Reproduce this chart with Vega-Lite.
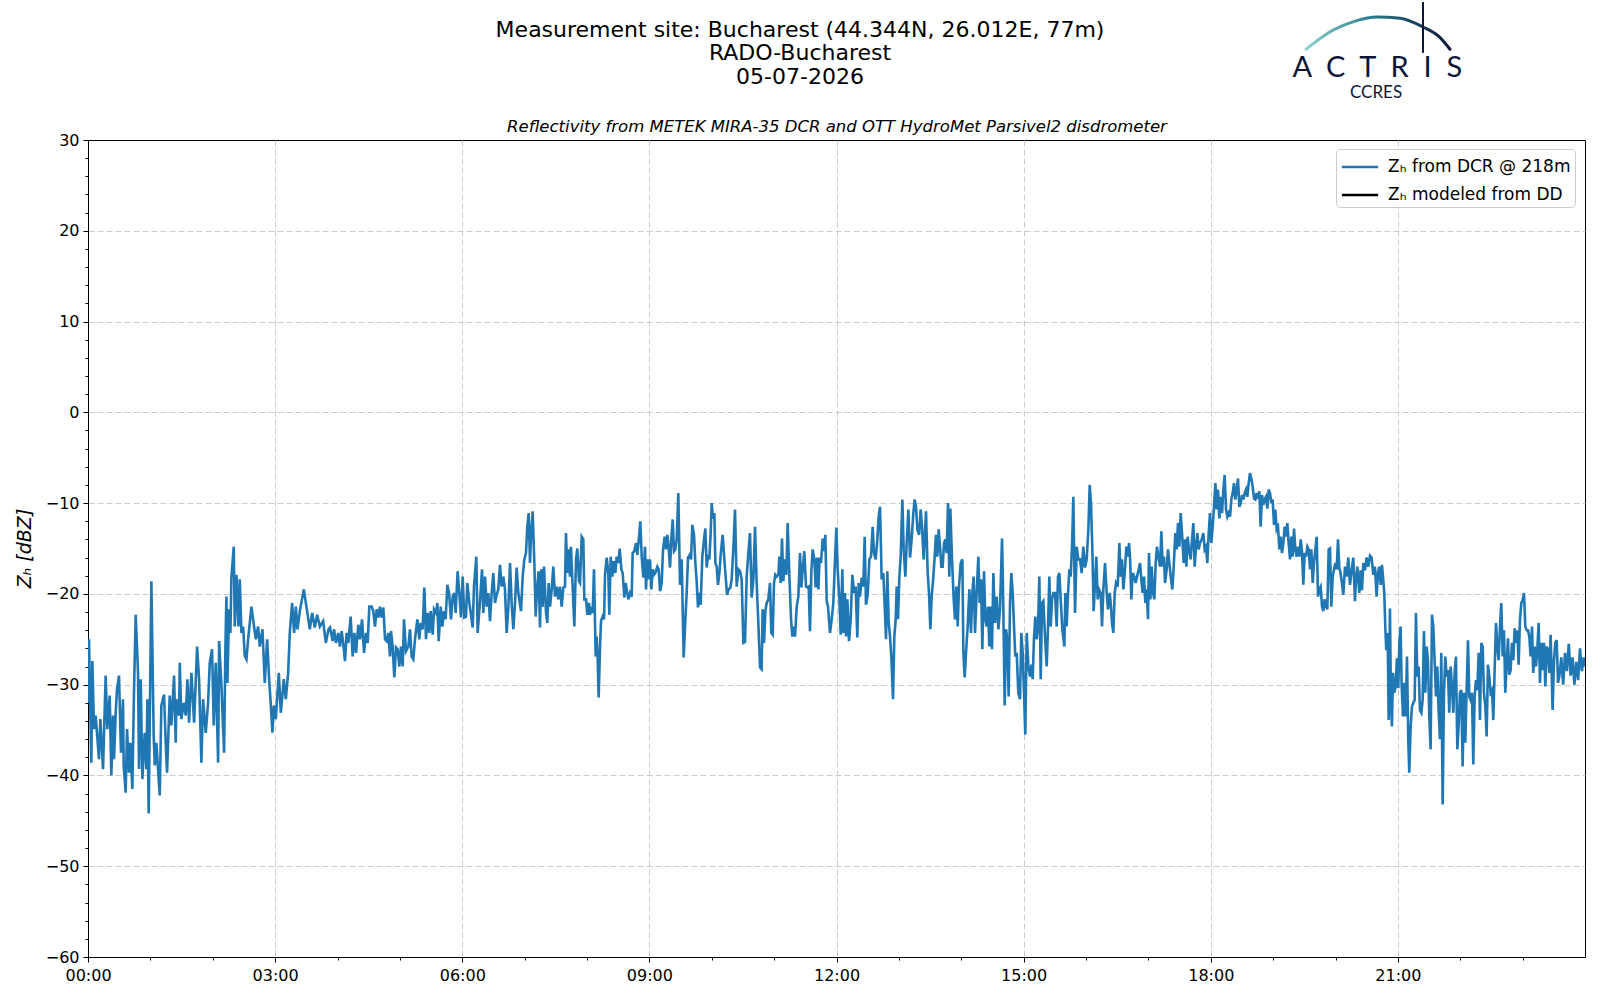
{
  "$schema": "https://vega.github.io/schema/vega-lite/v6.json",
  "width": 1497,
  "height": 817,
  "autosize": {"type": "none"},
  "padding": {"left": 88, "top": 140, "right": 15, "bottom": 43},
  "background": "white",
  "config": {
    "font": "DejaVu Sans",
    "view": {"stroke": "black", "strokeWidth": 1},
    "axis": {
      "labelFont": "DejaVu Sans",
      "labelFontSize": 16,
      "labelColor": "black",
      "tickColor": "black",
      "domainColor": "black",
      "titleFont": "DejaVu Sans",
      "titleColor": "black",
      "titleFontWeight": "normal"
    }
  },
  "title": {
    "text": ["Measurement site: Bucharest (44.344N, 26.012E, 77m)", "RADO-Bucharest", "05-07-2026"],
    "font": "DejaVu Sans",
    "fontSize": 22,
    "fontWeight": "normal",
    "color": "black",
    "anchor": "middle",
    "frame": "group",
    "dx": -36.5,
    "offset": -87.5,
    "lineHeight": 23.5,
    "baseline": "top"
  },
  "resolve": {"axis": {"x": "independent", "y": "independent"}},
  "datasets": {
    "zh": [
      {"t":0,"z":-32.0},{"t":0.016,"z":-25.0},{"t":0.053,"z":-38.6},{"t":0.070,"z":-27.4},{"t":0.096,"z":-34.9},{"t":0.123,"z":-33.4},{"t":0.144,"z":-35.3},{"t":0.176,"z":-38.2},{"t":0.198,"z":-33.8},{"t":0.241,"z":-39.3},{"t":0.283,"z":-29.0},{"t":0.310,"z":-34.9},{"t":0.348,"z":-31.2},{"t":0.374,"z":-40.0},{"t":0.401,"z":-33.4},{"t":0.417,"z":-38.2},{"t":0.444,"z":-33.1},{"t":0.465,"z":-30.5},{"t":0.497,"z":-29.0},{"t":0.529,"z":-37.5},{"t":0.561,"z":-31.6},{"t":0.572,"z":-38.9},{"t":0.604,"z":-41.9},{"t":0.626,"z":-34.9},{"t":0.658,"z":-39.7},{"t":0.679,"z":-36.4},{"t":0.711,"z":-41.5},{"t":0.738,"z":-30.5},{"t":0.765,"z":-22.3},{"t":0.802,"z":-28.7},{"t":0.818,"z":-39.3},{"t":0.845,"z":-29.4},{"t":0.872,"z":-40.4},{"t":0.909,"z":-35.3},{"t":0.936,"z":-39.3},{"t":0.952,"z":-31.6},{"t":0.973,"z":-44.2},{"t":1.016,"z":-18.6},{"t":1.053,"z":-35.6},{"t":1.070,"z":-38.9},{"t":1.096,"z":-36.4},{"t":1.150,"z":-42.2},{"t":1.176,"z":-32.3},{"t":1.219,"z":-31.1},{"t":1.246,"z":-36.4},{"t":1.267,"z":-39.7},{"t":1.310,"z":-31.2},{"t":1.337,"z":-34.5},{"t":1.380,"z":-29.0},{"t":1.406,"z":-36.4},{"t":1.417,"z":-31.6},{"t":1.460,"z":-33.4},{"t":1.471,"z":-27.6},{"t":1.497,"z":-33.8},{"t":1.535,"z":-32.0},{"t":1.567,"z":-33.4},{"t":1.594,"z":-29.4},{"t":1.620,"z":-34.2},{"t":1.658,"z":-28.7},{"t":1.701,"z":-34.2},{"t":1.749,"z":-25.8},{"t":1.781,"z":-29.4},{"t":1.818,"z":-38.6},{"t":1.845,"z":-31.6},{"t":1.888,"z":-35.3},{"t":1.925,"z":-32.0},{"t":1.952,"z":-27.6},{"t":1.989,"z":-26.1},{"t":2.016,"z":-34.5},{"t":2.048,"z":-27.6},{"t":2.086,"z":-38.6},{"t":2.102,"z":-25.2},{"t":2.139,"z":-30.1},{"t":2.182,"z":-37.5},{"t":2.203,"z":-25.8},{"t":2.219,"z":-20.3},{"t":2.235,"z":-29.8},{"t":2.262,"z":-21.7},{"t":2.283,"z":-24.3},{"t":2.299,"z":-18.2},{"t":2.337,"z":-14.8},{"t":2.353,"z":-23.6},{"t":2.380,"z":-17.9},{"t":2.412,"z":-23.6},{"t":2.433,"z":-18.4},{"t":2.460,"z":-24.3},{"t":2.487,"z":-23.6},{"t":2.513,"z":-26.8},{"t":2.540,"z":-27.2},{"t":2.567,"z":-25.0},{"t":2.620,"z":-21.4},{"t":2.647,"z":-22.8},{"t":2.690,"z":-25.0},{"t":2.727,"z":-23.6},{"t":2.754,"z":-25.8},{"t":2.797,"z":-23.9},{"t":2.834,"z":-29.8},{"t":2.872,"z":-25.0},{"t":2.904,"z":-29.4},{"t":2.925,"z":-31.6},{"t":2.957,"z":-35.3},{"t":2.979,"z":-32.3},{"t":3.011,"z":-33.8},{"t":3.059,"z":-28.7},{"t":3.091,"z":-33.1},{"t":3.139,"z":-29.4},{"t":3.171,"z":-31.6},{"t":3.209,"z":-28.7},{"t":3.235,"z":-24.3},{"t":3.273,"z":-21.0},{"t":3.305,"z":-24.3},{"t":3.332,"z":-21.4},{"t":3.358,"z":-23.9},{"t":3.396,"z":-21.9},{"t":3.460,"z":-19.5},{"t":3.556,"z":-23.9},{"t":3.594,"z":-22.1},{"t":3.636,"z":-23.7},{"t":3.674,"z":-22.3},{"t":3.717,"z":-23.6},{"t":3.770,"z":-23.0},{"t":3.813,"z":-25.4},{"t":3.856,"z":-23.9},
      {"t":3.880,"z":-23.7},{"t":3.922,"z":-25.2},{"t":3.944,"z":-23.9},{"t":3.976,"z":-25.4},{"t":4.013,"z":-24.3},{"t":4.040,"z":-25.8},{"t":4.067,"z":-24.1},{"t":4.094,"z":-25.6},{"t":4.120,"z":-27.4},{"t":4.147,"z":-24.3},{"t":4.174,"z":-25.4},{"t":4.211,"z":-22.5},{"t":4.243,"z":-26.9},{"t":4.270,"z":-24.3},{"t":4.297,"z":-26.5},{"t":4.334,"z":-23.4},{"t":4.361,"z":-25.0},{"t":4.393,"z":-22.8},{"t":4.425,"z":-26.5},{"t":4.457,"z":-24.3},{"t":4.484,"z":-25.4},{"t":4.510,"z":-21.4},{"t":4.548,"z":-21.4},{"t":4.574,"z":-21.9},{"t":4.601,"z":-23.6},{"t":4.628,"z":-21.7},{"t":4.655,"z":-22.6},{"t":4.681,"z":-21.4},{"t":4.708,"z":-22.6},{"t":4.735,"z":-21.5},{"t":4.762,"z":-25.0},{"t":4.788,"z":-25.2},{"t":4.815,"z":-24.3},{"t":4.842,"z":-26.9},{"t":4.858,"z":-24.1},{"t":4.884,"z":-25.8},{"t":4.911,"z":-29.2},{"t":4.938,"z":-25.9},{"t":4.965,"z":-26.1},{"t":4.991,"z":-28.0},{"t":5.018,"z":-25.8},{"t":5.045,"z":-28.0},{"t":5.066,"z":-22.8},{"t":5.098,"z":-26.3},{"t":5.136,"z":-25.8},{"t":5.162,"z":-23.9},{"t":5.189,"z":-26.9},{"t":5.216,"z":-27.2},{"t":5.242,"z":-25.0},{"t":5.280,"z":-22.8},{"t":5.312,"z":-25.0},{"t":5.333,"z":-23.2},{"t":5.365,"z":-23.9},{"t":5.392,"z":-19.3},{"t":5.419,"z":-25.0},{"t":5.446,"z":-22.1},{"t":5.472,"z":-24.3},{"t":5.494,"z":-21.9},{"t":5.526,"z":-24.5},{"t":5.547,"z":-21.7},{"t":5.579,"z":-22.1},{"t":5.601,"z":-21.0},{"t":5.622,"z":-25.2},{"t":5.654,"z":-21.4},{"t":5.681,"z":-23.6},{"t":5.707,"z":-21.9},{"t":5.734,"z":-22.8},{"t":5.761,"z":-19.0},{"t":5.788,"z":-19.9},{"t":5.820,"z":-22.8},{"t":5.846,"z":-20.3},{"t":5.873,"z":-19.9},{"t":5.894,"z":-22.1},{"t":5.926,"z":-17.5},{"t":5.953,"z":-19.9},{"t":5.980,"z":-22.6},{"t":6.007,"z":-18.1},{"t":6.033,"z":-22.6},{"t":6.060,"z":-22.5},{"t":6.081,"z":-18.8},{"t":6.114,"z":-21.0},{"t":6.140,"z":-22.3},{"t":6.167,"z":-23.7},{"t":6.188,"z":-19.2},{"t":6.226,"z":-15.9},{"t":6.247,"z":-24.3},{"t":6.285,"z":-20.8},{"t":6.317,"z":-17.3},{"t":6.338,"z":-22.1},{"t":6.365,"z":-18.1},{"t":6.392,"z":-21.4},{"t":6.418,"z":-19.9},{"t":6.445,"z":-23.0},{"t":6.472,"z":-19.9},{"t":6.498,"z":-17.7},{"t":6.525,"z":-21.0},{"t":6.552,"z":-20.1},{"t":6.578,"z":-19.5},{"t":6.605,"z":-16.8},{"t":6.632,"z":-19.2},{"t":6.659,"z":-18.1},{"t":6.685,"z":-19.5},{"t":6.712,"z":-24.3},{"t":6.739,"z":-21.5},{"t":6.766,"z":-16.6},{"t":6.792,"z":-21.0},{"t":6.819,"z":-23.9},{"t":6.846,"z":-21.0},{"t":6.872,"z":-17.1},{"t":6.899,"z":-19.9},{"t":6.942,"z":-21.9},{"t":6.969,"z":-18.1},{"t":6.995,"z":-16.2},{"t":7.022,"z":-15.5},{"t":7.043,"z":-12.6},{"t":7.065,"z":-11.1},{"t":7.086,"z":-16.6},{"t":7.102,"z":-13.7},{"t":7.129,"z":-10.9},{"t":7.156,"z":-16.6},{"t":7.177,"z":-22.5},{"t":7.198,"z":-19.5},{"t":7.225,"z":-17.5},{"t":7.246,"z":-23.7},{"t":7.268,"z":-17.3},{"t":7.289,"z":-21.4},{"t":7.311,"z":-17.0},{"t":7.343,"z":-22.1},{"t":7.364,"z":-23.2},{"t":7.385,"z":-18.8},{"t":7.407,"z":-21.4},{"t":7.434,"z":-19.5},{"t":7.460,"z":-17.0},{"t":7.487,"z":-20.3},{"t":7.514,"z":-19.2},{"t":7.540,"z":-20.6},{"t":7.567,"z":-19.2},{"t":7.594,"z":-21.4},{"t":7.621,"z":-19.3},{"t":7.647,"z":-19.2},{"t":7.663,"z":-13.3},{"t":7.685,"z":-17.7},{"t":7.706,"z":-15.1},{"t":7.727,"z":-18.1},{"t":7.743,"z":-14.8},{"t":7.770,"z":-19.2},{"t":7.797,"z":-23.6},{"t":7.824,"z":-16.2},{"t":7.845,"z":-15.0},{"t":7.872,"z":-18.6},
      {"t":7.888,"z":-18.8},{"t":7.915,"z":-13.7},{"t":7.941,"z":-14.0},{"t":7.957,"z":-20.6},{"t":7.984,"z":-20.6},{"t":8.006,"z":-22.3},{"t":8.032,"z":-21.0},{"t":8.048,"z":-22.3},{"t":8.075,"z":-21.4},{"t":8.091,"z":-22.1},{"t":8.112,"z":-17.3},{"t":8.139,"z":-26.9},{"t":8.155,"z":-24.7},{"t":8.171,"z":-27.2},{"t":8.187,"z":-31.4},{"t":8.209,"z":-25.8},{"t":8.225,"z":-23.0},{"t":8.251,"z":-22.5},{"t":8.273,"z":-22.8},{"t":8.289,"z":-17.9},{"t":8.316,"z":-16.0},{"t":8.342,"z":-17.7},{"t":8.358,"z":-22.3},{"t":8.380,"z":-15.9},{"t":8.406,"z":-18.1},{"t":8.428,"z":-16.4},{"t":8.454,"z":-17.7},{"t":8.476,"z":-15.9},{"t":8.503,"z":-16.6},{"t":8.524,"z":-15.0},{"t":8.551,"z":-17.3},{"t":8.572,"z":-17.7},{"t":8.599,"z":-20.4},{"t":8.620,"z":-18.8},{"t":8.641,"z":-19.7},{"t":8.663,"z":-20.6},{"t":8.690,"z":-19.9},{"t":8.716,"z":-20.3},{"t":8.732,"z":-15.5},{"t":8.759,"z":-15.3},{"t":8.786,"z":-14.4},{"t":8.807,"z":-15.7},{"t":8.834,"z":-13.7},{"t":8.855,"z":-12.0},{"t":8.877,"z":-15.9},{"t":8.903,"z":-18.2},{"t":8.930,"z":-14.8},{"t":8.946,"z":-19.5},{"t":8.967,"z":-16.2},{"t":8.994,"z":-18.4},{"t":9.010,"z":-16.2},{"t":9.032,"z":-19.5},{"t":9.053,"z":-17.3},{"t":9.074,"z":-17.9},{"t":9.096,"z":-17.7},{"t":9.128,"z":-17.0},{"t":9.149,"z":-17.3},{"t":9.171,"z":-19.7},{"t":9.197,"z":-18.8},{"t":9.219,"z":-15.1},{"t":9.245,"z":-13.7},{"t":9.267,"z":-15.1},{"t":9.288,"z":-13.5},{"t":9.309,"z":-14.8},{"t":9.331,"z":-17.1},{"t":9.352,"z":-14.0},{"t":9.374,"z":-11.8},{"t":9.395,"z":-15.3},{"t":9.416,"z":-15.1},{"t":9.438,"z":-14.0},{"t":9.464,"z":-8.9},{"t":9.491,"z":-19.0},{"t":9.518,"z":-16.2},{"t":9.550,"z":-27.0},{"t":9.577,"z":-22.8},{"t":9.598,"z":-19.9},{"t":9.619,"z":-16.0},{"t":9.646,"z":-15.7},{"t":9.668,"z":-16.2},{"t":9.689,"z":-12.4},{"t":9.716,"z":-13.5},{"t":9.737,"z":-16.6},{"t":9.758,"z":-18.6},{"t":9.780,"z":-21.5},{"t":9.801,"z":-19.9},{"t":9.822,"z":-21.2},{"t":9.849,"z":-15.9},{"t":9.876,"z":-14.0},{"t":9.897,"z":-12.8},{"t":9.919,"z":-17.1},{"t":9.940,"z":-15.7},{"t":9.961,"z":-16.2},{"t":9.983,"z":-13.3},{"t":9.999,"z":-10.0},{"t":10.020,"z":-11.7},{"t":10.042,"z":-11.1},{"t":10.058,"z":-16.6},{"t":10.079,"z":-17.0},{"t":10.100,"z":-19.0},{"t":10.122,"z":-17.7},{"t":10.143,"z":-15.7},{"t":10.175,"z":-13.5},{"t":10.202,"z":-16.2},{"t":10.223,"z":-18.1},{"t":10.245,"z":-20.1},{"t":10.271,"z":-19.5},{"t":10.298,"z":-19.3},{"t":10.319,"z":-18.4},{"t":10.346,"z":-15.1},{"t":10.373,"z":-10.7},{"t":10.400,"z":-19.2},{"t":10.426,"z":-17.3},{"t":10.453,"z":-17.5},{"t":10.480,"z":-18.4},{"t":10.507,"z":-25.4},{"t":10.533,"z":-25.3},{"t":10.560,"z":-18.1},{"t":10.587,"z":-15.5},{"t":10.613,"z":-13.3},{"t":10.640,"z":-20.4},{"t":10.667,"z":-18.4},{"t":10.694,"z":-12.6},{"t":10.720,"z":-18.8},{"t":10.747,"z":-23.2},{"t":10.774,"z":-28.1},{"t":10.800,"z":-28.3},{"t":10.816,"z":-21.7},{"t":10.838,"z":-25.4},{"t":10.859,"z":-21.9},{"t":10.881,"z":-21.0},{"t":10.907,"z":-20.6},{"t":10.934,"z":-18.8},{"t":10.955,"z":-24.3},{"t":10.977,"z":-24.5},{"t":10.998,"z":-18.8},{"t":11.019,"z":-17.9},{"t":11.041,"z":-18.1},{"t":11.068,"z":-17.9},{"t":11.084,"z":-15.9},{"t":11.105,"z":-18.8},{"t":11.126,"z":-13.9},{"t":11.148,"z":-18.6},{"t":11.169,"z":-16.2},{"t":11.196,"z":-17.9},{"t":11.217,"z":-12.2},{"t":11.244,"z":-17.9},{"t":11.271,"z":-22.8},{"t":11.292,"z":-24.7},{"t":11.313,"z":-23.6},{"t":11.335,"z":-24.7},{"t":11.362,"z":-21.4},{"t":11.388,"z":-20.3},{"t":11.415,"z":-15.5},{"t":11.436,"z":-19.3},{"t":11.458,"z":-17.3},{"t":11.484,"z":-15.3},{"t":11.511,"z":-19.2},{"t":11.532,"z":-19.3},{"t":11.554,"z":-19.2},{"t":11.575,"z":-24.1},{"t":11.597,"z":-17.5},{"t":11.618,"z":-15.1},{"t":11.645,"z":-16.2},{"t":11.666,"z":-19.3},{"t":11.688,"z":-16.0},{"t":11.709,"z":-19.5},{"t":11.730,"z":-16.0},{"t":11.752,"z":-16.6},{"t":11.778,"z":-13.9},{"t":11.800,"z":-15.3},{"t":11.821,"z":-13.5},{"t":11.843,"z":-20.8},{"t":11.864,"z":-21.4},
      {"t":11.896,"z":-24.3},{"t":11.923,"z":-22.8},{"t":11.949,"z":-21.0},{"t":11.976,"z":-16.2},{"t":11.998,"z":-12.7},{"t":12.019,"z":-17.3},{"t":12.046,"z":-20.6},{"t":12.067,"z":-24.5},{"t":12.094,"z":-17.3},{"t":12.110,"z":-24.3},{"t":12.136,"z":-19.9},{"t":12.153,"z":-24.7},{"t":12.174,"z":-20.6},{"t":12.201,"z":-25.2},{"t":12.227,"z":-22.8},{"t":12.254,"z":-17.9},{"t":12.281,"z":-19.9},{"t":12.307,"z":-19.2},{"t":12.334,"z":-24.8},{"t":12.356,"z":-18.8},{"t":12.377,"z":-20.3},{"t":12.404,"z":-18.2},{"t":12.430,"z":-19.2},{"t":12.452,"z":-13.7},{"t":12.473,"z":-21.2},{"t":12.500,"z":-20.1},{"t":12.527,"z":-16.2},{"t":12.553,"z":-15.9},{"t":12.580,"z":-12.6},{"t":12.601,"z":-15.5},{"t":12.628,"z":-16.2},{"t":12.655,"z":-14.0},{"t":12.676,"z":-11.5},{"t":12.698,"z":-10.4},{"t":12.724,"z":-18.4},{"t":12.751,"z":-17.7},{"t":12.772,"z":-21.2},{"t":12.794,"z":-25.0},{"t":12.815,"z":-17.5},{"t":12.837,"z":-23.2},{"t":12.858,"z":-24.7},{"t":12.879,"z":-26.9},{"t":12.906,"z":-31.6},{"t":12.927,"z":-24.7},{"t":12.949,"z":-22.8},{"t":12.965,"z":-19.2},{"t":12.986,"z":-22.8},{"t":13.008,"z":-18.1},{"t":13.029,"z":-15.9},{"t":13.056,"z":-9.6},{"t":13.077,"z":-15.1},{"t":13.104,"z":-18.1},{"t":13.125,"z":-14.4},{"t":13.152,"z":-10.7},{"t":13.179,"z":-16.0},{"t":13.205,"z":-14.0},{"t":13.232,"z":-11.1},{"t":13.253,"z":-9.6},{"t":13.275,"z":-10.4},{"t":13.296,"z":-12.9},{"t":13.323,"z":-13.5},{"t":13.350,"z":-10.7},{"t":13.371,"z":-12.6},{"t":13.398,"z":-16.2},{"t":13.435,"z":-10.9},{"t":13.462,"z":-17.7},{"t":13.483,"z":-19.9},{"t":13.505,"z":-23.9},{"t":13.526,"z":-20.3},{"t":13.553,"z":-18.1},{"t":13.574,"z":-15.9},{"t":13.595,"z":-13.5},{"t":13.617,"z":-15.9},{"t":13.638,"z":-12.9},{"t":13.660,"z":-14.8},{"t":13.681,"z":-17.0},{"t":13.702,"z":-17.0},{"t":13.724,"z":-14.4},{"t":13.745,"z":-14.0},{"t":13.766,"z":-15.5},{"t":13.788,"z":-10.0},{"t":13.809,"z":-18.1},{"t":13.825,"z":-10.6},{"t":13.852,"z":-16.2},{"t":13.879,"z":-20.6},{"t":13.900,"z":-22.8},{"t":13.921,"z":-19.2},{"t":13.943,"z":-23.6},{"t":13.964,"z":-19.2},{"t":13.991,"z":-16.6},{"t":14.018,"z":-16.2},{"t":14.034,"z":-26.5},{"t":14.055,"z":-29.2},{"t":14.076,"z":-26.5},{"t":14.103,"z":-23.6},{"t":14.130,"z":-19.5},{"t":14.156,"z":-24.3},{"t":14.178,"z":-19.9},{"t":14.199,"z":-18.1},{"t":14.221,"z":-24.3},{"t":14.247,"z":-19.9},{"t":14.274,"z":-15.9},{"t":14.295,"z":-21.0},{"t":14.317,"z":-18.4},{"t":14.338,"z":-26.1},{"t":14.365,"z":-17.5},{"t":14.386,"z":-22.8},{"t":14.408,"z":-23.6},{"t":14.429,"z":-21.4},{"t":14.450,"z":-25.8},{"t":14.472,"z":-21.4},{"t":14.493,"z":-26.1},{"t":14.515,"z":-17.7},{"t":14.541,"z":-23.2},{"t":14.568,"z":-20.3},{"t":14.595,"z":-23.9},{"t":14.621,"z":-21.7},{"t":14.654,"z":-13.9},{"t":14.675,"z":-21.7},{"t":14.696,"z":-32.3},{"t":14.718,"z":-23.9},{"t":14.739,"z":-25.0},{"t":14.760,"z":-31.3},{"t":14.782,"z":-21.0},{"t":14.803,"z":-17.7},{"t":14.825,"z":-19.9},{"t":14.846,"z":-23.6},{"t":14.867,"z":-26.9},{"t":14.889,"z":-26.5},{"t":14.915,"z":-30.9},{"t":14.942,"z":-31.6},{"t":14.963,"z":-24.3},{"t":14.985,"z":-26.5},{"t":15.006,"z":-30.9},{"t":15.027,"z":-35.5},{"t":15.049,"z":-24.3},{"t":15.076,"z":-28.0},{"t":15.102,"z":-29.1},{"t":15.124,"z":-27.8},{"t":15.145,"z":-29.4},{"t":15.167,"z":-24.7},{"t":15.188,"z":-22.5},{"t":15.209,"z":-25.0},{"t":15.231,"z":-23.6},{"t":15.252,"z":-18.1},{"t":15.274,"z":-29.4},{"t":15.295,"z":-21.0},{"t":15.316,"z":-20.8},{"t":15.343,"z":-24.7},{"t":15.370,"z":-28.0},{"t":15.391,"z":-23.6},{"t":15.412,"z":-18.1},{"t":15.434,"z":-23.6},{"t":15.455,"z":-20.6},{"t":15.476,"z":-19.9},{"t":15.503,"z":-19.9},{"t":15.530,"z":-23.6},{"t":15.551,"z":-18.1},{"t":15.573,"z":-17.7},{"t":15.594,"z":-20.6},{"t":15.621,"z":-23.9},{"t":15.653,"z":-25.8},{"t":15.669,"z":-19.9},{"t":15.690,"z":-23.6},{"t":15.712,"z":-19.9},{"t":15.733,"z":-17.3},{"t":15.754,"z":-18.1},{"t":15.776,"z":-14.8},{"t":15.797,"z":-9.3},{"t":15.824,"z":-22.1},{"t":15.851,"z":-14.8},{"t":15.877,"z":-16.2},
      {"t":15.904,"z":-16.2},{"t":15.931,"z":-17.7},{"t":15.957,"z":-14.8},{"t":15.984,"z":-17.1},{"t":16.011,"z":-16.2},{"t":16.038,"z":-12.9},{"t":16.059,"z":-8.0},{"t":16.080,"z":-10.0},{"t":16.102,"z":-15.1},{"t":16.123,"z":-21.9},{"t":16.144,"z":-18.8},{"t":16.166,"z":-15.9},{"t":16.187,"z":-20.6},{"t":16.209,"z":-19.5},{"t":16.235,"z":-19.9},{"t":16.257,"z":-23.6},{"t":16.278,"z":-19.5},{"t":16.305,"z":-16.6},{"t":16.332,"z":-19.9},{"t":16.353,"z":-21.7},{"t":16.380,"z":-19.9},{"t":16.401,"z":-21.4},{"t":16.417,"z":-23.2},{"t":16.438,"z":-24.3},{"t":16.460,"z":-19.9},{"t":16.481,"z":-18.8},{"t":16.508,"z":-19.2},{"t":16.535,"z":-14.4},{"t":16.556,"z":-18.1},{"t":16.577,"z":-16.2},{"t":16.599,"z":-19.5},{"t":16.625,"z":-17.3},{"t":16.647,"z":-14.8},{"t":16.668,"z":-15.9},{"t":16.690,"z":-14.4},{"t":16.706,"z":-16.0},{"t":16.727,"z":-20.6},{"t":16.748,"z":-17.7},{"t":16.775,"z":-18.1},{"t":16.796,"z":-18.8},{"t":16.818,"z":-18.1},{"t":16.845,"z":-17.3},{"t":16.866,"z":-16.6},{"t":16.887,"z":-18.4},{"t":16.909,"z":-19.9},{"t":16.930,"z":-18.1},{"t":16.951,"z":-21.0},{"t":16.973,"z":-19.5},{"t":16.994,"z":-22.8},{"t":17.010,"z":-15.5},{"t":17.032,"z":-20.6},{"t":17.053,"z":-17.0},{"t":17.074,"z":-19.9},{"t":17.096,"z":-20.6},{"t":17.117,"z":-16.6},{"t":17.138,"z":-14.8},{"t":17.160,"z":-15.9},{"t":17.187,"z":-17.0},{"t":17.208,"z":-13.1},{"t":17.229,"z":-17.0},{"t":17.251,"z":-15.9},{"t":17.267,"z":-18.8},{"t":17.293,"z":-17.3},{"t":17.315,"z":-15.1},{"t":17.336,"z":-16.6},{"t":17.358,"z":-18.1},{"t":17.384,"z":-19.5},{"t":17.406,"z":-17.0},{"t":17.432,"z":-13.3},{"t":17.454,"z":-15.1},{"t":17.475,"z":-12.2},{"t":17.497,"z":-14.8},{"t":17.518,"z":-11.1},{"t":17.539,"z":-13.3},{"t":17.566,"z":-16.6},{"t":17.587,"z":-14.0},{"t":17.609,"z":-17.0},{"t":17.630,"z":-13.7},{"t":17.651,"z":-15.1},{"t":17.678,"z":-16.2},{"t":17.700,"z":-14.0},{"t":17.721,"z":-12.2},{"t":17.742,"z":-17.0},{"t":17.764,"z":-14.8},{"t":17.785,"z":-13.3},{"t":17.806,"z":-15.1},{"t":17.828,"z":-14.4},{"t":17.855,"z":-14.0},{"t":17.881,"z":-13.3},{"t":17.903,"z":-15.1},{"t":17.924,"z":-14.8},{"t":17.945,"z":-16.6},{"t":17.967,"z":-13.3},{"t":17.988,"z":-11.1},{"t":18.009,"z":-14.4},{"t":18.031,"z":-12.6},{"t":18.052,"z":-10.4},{"t":18.074,"z":-7.8},{"t":18.095,"z":-10.7},{"t":18.116,"z":-8.5},{"t":18.138,"z":-11.7},{"t":18.159,"z":-9.3},{"t":18.181,"z":-11.1},{"t":18.202,"z":-8.5},{"t":18.223,"z":-6.9},{"t":18.245,"z":-10.7},{"t":18.266,"z":-11.5},{"t":18.288,"z":-11.1},{"t":18.309,"z":-11.5},{"t":18.330,"z":-9.6},{"t":18.352,"z":-8.9},{"t":18.373,"z":-7.8},{"t":18.394,"z":-9.6},{"t":18.416,"z":-8.5},{"t":18.437,"z":-7.3},{"t":18.458,"z":-10.4},{"t":18.480,"z":-10.0},{"t":18.501,"z":-9.1},{"t":18.523,"z":-9.6},{"t":18.544,"z":-8.9},{"t":18.565,"z":-8.5},{"t":18.587,"z":-9.3},{"t":18.608,"z":-7.8},{"t":18.629,"z":-6.7},{"t":18.651,"z":-7.3},{"t":18.672,"z":-8.2},{"t":18.694,"z":-9.5},{"t":18.715,"z":-9.6},{"t":18.736,"z":-8.9},{"t":18.758,"z":-9.5},{"t":18.779,"z":-8.7},{"t":18.800,"z":-12.6},{"t":18.822,"z":-9.1},{"t":18.843,"z":-10.2},{"t":18.864,"z":-9.6},{"t":18.886,"z":-9.3},{"t":18.907,"z":-10.6},{"t":18.929,"z":-8.5},{"t":18.950,"z":-8.9},{"t":18.971,"z":-10.0},{"t":18.993,"z":-9.6},{"t":19.014,"z":-12.4},{"t":19.035,"z":-10.7},{"t":19.057,"z":-12.9},{"t":19.078,"z":-12.6},{"t":19.100,"z":-15.1},{"t":19.121,"z":-13.7},{"t":19.142,"z":-15.5},{"t":19.164,"z":-14.4},{"t":19.185,"z":-12.6},{"t":19.206,"z":-13.7},{"t":19.228,"z":-12.2},{"t":19.249,"z":-14.4},{"t":19.271,"z":-16.2},{"t":19.292,"z":-13.7},{"t":19.313,"z":-15.9},{"t":19.335,"z":-12.8},{"t":19.356,"z":-15.1},{"t":19.377,"z":-15.9},{"t":19.399,"z":-14.8},{"t":19.420,"z":-15.9},{"t":19.442,"z":-14.0},{"t":19.463,"z":-15.3},{"t":19.484,"z":-19.0},{"t":19.506,"z":-15.5},{"t":19.527,"z":-15.9},{"t":19.549,"z":-14.8},{"t":19.570,"z":-15.1},{"t":19.591,"z":-17.3},{"t":19.613,"z":-15.1},{"t":19.634,"z":-18.8},{"t":19.655,"z":-16.6},{"t":19.677,"z":-15.1},{"t":19.698,"z":-13.7},{"t":19.720,"z":-20.3},{"t":19.741,"z":-19.5},{"t":19.762,"z":-19.2},{"t":19.784,"z":-21.4},{"t":19.805,"z":-21.9},{"t":19.826,"z":-20.6},{"t":19.848,"z":-21.4},{"t":19.869,"z":-21.7},{"t":19.891,"z":-15.1},{"t":19.912,"z":-15.0},{"t":19.933,"z":-21.4},{"t":19.955,"z":-18.1},{"t":19.976,"z":-17.3},{"t":19.997,"z":-16.6},{"t":20.019,"z":-17.3},{"t":20.040,"z":-14.0},{"t":20.062,"z":-17.3},
      {"t":20.072,"z":-17.4},{"t":20.098,"z":-18.5},{"t":20.125,"z":-20.1},{"t":20.152,"z":-17.0},{"t":20.179,"z":-18.1},{"t":20.205,"z":-16.0},{"t":20.232,"z":-19.0},{"t":20.259,"z":-17.4},{"t":20.285,"z":-16.0},{"t":20.312,"z":-20.8},{"t":20.328,"z":-18.5},{"t":20.350,"z":-17.0},{"t":20.382,"z":-19.9},{"t":20.403,"z":-17.4},{"t":20.424,"z":-19.6},{"t":20.446,"z":-16.6},{"t":20.472,"z":-17.4},{"t":20.499,"z":-16.0},{"t":20.526,"z":-17.0},{"t":20.553,"z":-15.8},{"t":20.579,"z":-16.0},{"t":20.606,"z":-17.9},{"t":20.633,"z":-17.0},{"t":20.659,"z":-20.3},{"t":20.681,"z":-17.7},{"t":20.702,"z":-17.0},{"t":20.724,"z":-19.0},{"t":20.745,"z":-16.8},{"t":20.766,"z":-18.5},{"t":20.782,"z":-19.9},{"t":20.798,"z":-23.6},{"t":20.814,"z":-26.2},{"t":20.836,"z":-24.3},{"t":20.852,"z":-33.9},{"t":20.873,"z":-21.6},{"t":20.889,"z":-32.0},{"t":20.905,"z":-34.6},{"t":20.921,"z":-28.7},{"t":20.943,"z":-30.9},{"t":20.964,"z":-30.2},{"t":20.985,"z":-27.1},{"t":21.007,"z":-30.4},{"t":21.023,"z":-25.4},{"t":21.044,"z":-23.6},{"t":21.060,"z":-30.0},{"t":21.082,"z":-33.5},{"t":21.103,"z":-29.8},{"t":21.124,"z":-33.5},{"t":21.146,"z":-26.9},{"t":21.167,"z":-36.2},{"t":21.183,"z":-39.7},{"t":21.205,"z":-34.6},{"t":21.226,"z":-32.4},{"t":21.247,"z":-32.0},{"t":21.269,"z":-31.7},{"t":21.290,"z":-22.1},{"t":21.311,"z":-29.1},{"t":21.333,"z":-28.0},{"t":21.354,"z":-32.8},{"t":21.376,"z":-33.1},{"t":21.397,"z":-31.7},{"t":21.418,"z":-24.1},{"t":21.440,"z":-30.9},{"t":21.461,"z":-25.8},{"t":21.482,"z":-27.3},{"t":21.504,"z":-33.5},{"t":21.525,"z":-37.1},{"t":21.547,"z":-22.3},{"t":21.568,"z":-23.6},{"t":21.589,"z":-27.3},{"t":21.611,"z":-31.3},{"t":21.632,"z":-28.0},{"t":21.653,"z":-32.8},{"t":21.675,"z":-36.0},{"t":21.696,"z":-26.5},{"t":21.718,"z":-43.2},{"t":21.739,"z":-30.9},{"t":21.760,"z":-26.9},{"t":21.782,"z":-29.1},{"t":21.803,"z":-28.4},{"t":21.824,"z":-33.1},{"t":21.846,"z":-28.0},{"t":21.867,"z":-30.2},{"t":21.889,"z":-33.1},{"t":21.910,"z":-28.7},{"t":21.931,"z":-26.9},{"t":21.953,"z":-37.1},{"t":21.974,"z":-34.6},{"t":21.995,"z":-30.9},{"t":22.017,"z":-30.6},{"t":22.038,"z":-39.0},{"t":22.060,"z":-30.9},{"t":22.081,"z":-36.4},{"t":22.102,"z":-30.6},{"t":22.124,"z":-25.1},{"t":22.145,"z":-31.3},{"t":22.167,"z":-31.7},{"t":22.188,"z":-30.9},{"t":22.209,"z":-38.8},{"t":22.231,"z":-31.3},{"t":22.252,"z":-29.5},{"t":22.273,"z":-30.6},{"t":22.295,"z":-26.5},{"t":22.316,"z":-33.9},{"t":22.338,"z":-25.4},{"t":22.359,"z":-25.8},{"t":22.380,"z":-30.9},{"t":22.402,"z":-32.4},{"t":22.423,"z":-35.7},{"t":22.444,"z":-27.8},{"t":22.466,"z":-29.1},{"t":22.487,"z":-30.9},{"t":22.509,"z":-30.6},{"t":22.530,"z":-33.9},{"t":22.551,"z":-28.4},{"t":22.573,"z":-23.2},{"t":22.594,"z":-25.8},{"t":22.615,"z":-27.3},{"t":22.637,"z":-23.6},{"t":22.658,"z":-21.0},{"t":22.680,"z":-26.9},{"t":22.701,"z":-24.0},{"t":22.722,"z":-30.9},{"t":22.744,"z":-27.6},{"t":22.765,"z":-24.9},{"t":22.786,"z":-28.9},{"t":22.808,"z":-28.4},{"t":22.829,"z":-25.4},{"t":22.851,"z":-27.3},{"t":22.872,"z":-23.8},{"t":22.893,"z":-25.4},{"t":22.915,"z":-24.0},{"t":22.936,"z":-27.8},{"t":22.957,"z":-22.9},{"t":22.979,"z":-21.0},{"t":23.000,"z":-20.7},{"t":23.022,"z":-19.9},{"t":23.043,"z":-23.6},{"t":23.064,"z":-24.0},{"t":23.086,"z":-24.0},{"t":23.107,"z":-24.7},{"t":23.128,"z":-26.9},{"t":23.150,"z":-23.6},{"t":23.171,"z":-28.7},{"t":23.193,"z":-25.8},{"t":23.214,"z":-28.0},{"t":23.235,"z":-26.2},{"t":23.257,"z":-23.2},{"t":23.278,"z":-29.8},{"t":23.300,"z":-25.4},{"t":23.321,"z":-28.4},{"t":23.342,"z":-25.4},{"t":23.364,"z":-30.2},{"t":23.385,"z":-25.8},{"t":23.406,"z":-26.2},{"t":23.428,"z":-28.7},{"t":23.449,"z":-24.5},{"t":23.471,"z":-30.2},{"t":23.481,"z":-32.8},{"t":23.503,"z":-27.3},{"t":23.524,"z":-25.4},{"t":23.546,"z":-25.1},{"t":23.567,"z":-29.8},{"t":23.588,"z":-29.1},{"t":23.620,"z":-27.0},{"t":23.650,"z":-30.0},{"t":23.680,"z":-26.5},{"t":23.710,"z":-28.5},{"t":23.740,"z":-25.5},{"t":23.770,"z":-29.0},{"t":23.800,"z":-27.0},{"t":23.830,"z":-30.0},{"t":23.860,"z":-27.5},{"t":23.890,"z":-29.5},{"t":23.920,"z":-26.0},{"t":23.950,"z":-28.5},{"t":23.980,"z":-27.0},{"t":24.000,"z":-28.0}
    ],
    "arc": [
      {"t":19.527,"z":40.0},{"t":19.960,"z":42.1},{"t":20.313,"z":43.1},{"t":20.665,"z":43.55},{"t":21.034,"z":43.4},{"t":21.403,"z":42.45},{"t":21.643,"z":41.5},{"t":21.836,"z":40.0}
    ]
  },
  "layer": [
    {
      "data": {"name": "zh"},
      "mark": {"type": "line", "strokeWidth": 2.6, "clip": true},
      "encoding": {
        "x": {
          "field": "t",
          "type": "quantitative",
          "scale": {"domain": [0, 24], "nice": false, "zero": false},
          "axis": {
            "orient": "bottom",
            "title": null,
            "values": [0,1,2,3,4,5,6,7,8,9,10,11,12,13,14,15,16,17,18,19,20,21,22,23],
            "labelExpr": "datum.value % 3 === 0 ? (datum.value < 10 ? '0' : '') + datum.value + ':00' : ''",
            "labelFlush": false,
            "labelOverlap": false,
            "labelBound": false,
            "labelPadding": 5,
            "tickSize": {"condition": {"test": "datum.value % 3 === 0", "value": 5}, "value": 3},
            "tickWidth": 1,
            "grid": true,
            "gridColor": "#cccccc",
            "gridDash": [6, 3],
            "gridWidth": 1,
            "gridOpacity": {"condition": {"test": "datum.value % 3 === 0 && datum.value > 0", "value": 1}, "value": 0}
          }
        },
        "y": {
          "field": "z",
          "type": "quantitative",
          "scale": {"domain": [-60, 30], "nice": false, "zero": false},
          "axis": {
            "orient": "left",
            "title": "Zₕ [dBZ]",
            "titleFontStyle": "italic",
            "titleFontSize": 19,
            "titleX": -64,
            "titleY": 408,
            "titleAngle": 270,
            "titleAlign": "center",
            "titleBaseline": "middle",
            "values": [-60,-58,-56,-54,-52,-50,-48,-46,-44,-42,-40,-38,-36,-34,-32,-30,-28,-26,-24,-22,-20,-18,-16,-14,-12,-10,-8,-6,-4,-2,0,2,4,6,8,10,12,14,16,18,20,22,24,26,28,30],
            "labelExpr": "datum.value % 10 === 0 ? replace(format(datum.value, 'd'), '-', '−') : ''",
            "labelOverlap": false,
            "labelBound": false,
            "labelFlush": false,
            "labelPadding": 4,
            "tickSize": {"condition": {"test": "datum.value % 10 === 0", "value": 5}, "value": 3},
            "tickWidth": 1,
            "grid": true,
            "gridColor": "#cccccc",
            "gridDash": [6, 3],
            "gridWidth": 1,
            "gridOpacity": {"condition": {"test": "datum.value % 10 === 0 && datum.value > -60 && datum.value < 30", "value": 1}, "value": 0}
          }
        },
        "color": {
          "datum": "Zₕ from DCR @ 218m",
          "type": "nominal",
          "scale": {"domain": ["Zₕ from DCR @ 218m", "Zₕ modeled from DD"], "range": ["#1f77b4", "#000000"]},
          "legend": {
            "orient": "none",
            "legendX": 1248,
            "legendY": 9,
            "title": null,
            "symbolType": "M-1.45,0H1.45",
            "symbolSize": 625,
            "symbolOffset": 6,
            "symbolStrokeWidth": 2.5,
            "labelFont": "DejaVu Sans",
            "labelFontSize": 17,
            "labelColor": "black",
            "labelOffset": 14,
            "labelLimit": 0,
            "padding": 4,
            "rowPadding": 6,
            "strokeColor": "#cccccc",
            "fillColor": "rgba(255,255,255,0.8)",
            "cornerRadius": 4
          }
        }
      }
    },
    {
      "data": {"name": "arc"},
      "mark": {
        "type": "line",
        "strokeWidth": 3,
        "strokeCap": "round",
        "interpolate": "monotone",
        "color": {"gradient": "linear", "x1": 0, "y1": 0, "x2": 1, "y2": 0, "stops": [{"offset": 0, "color": "#8fd3cc"}, {"offset": 0.45, "color": "#2a7d8e"}, {"offset": 1, "color": "#0d1538"}]}
      },
      "encoding": {
        "x": {
          "field": "t",
          "type": "quantitative",
          "scale": {"domain": [0, 24], "nice": false, "zero": false},
          "axis": {
            "orient": "top",
            "title": "Reflectivity from METEK MIRA-35 DCR and OTT HydroMet Parsivel2 disdrometer",
            "titleFontStyle": "italic",
            "titleFontSize": 16.5,
            "titleY": -9,
            "titleBaseline": "alphabetic",
            "labels": false,
            "ticks": false,
            "domain": false,
            "grid": false
          }
        },
        "y": {"field": "z", "type": "quantitative", "scale": {"domain": [-60, 30], "nice": false, "zero": false}, "axis": null}
      }
    },
    {
      "data": {"values": [{}]},
      "mark": {"type": "rule", "color": "#0d1538", "strokeWidth": 2},
      "encoding": {
        "x": {"datum": 21.403, "type": "quantitative", "scale": {"domain": [0, 24], "nice": false, "zero": false}, "axis": null},
        "y": {"datum": 45.2, "type": "quantitative", "scale": {"domain": [-60, 30], "nice": false, "zero": false}, "axis": null},
        "y2": {"datum": 39.6}
      }
    },
    {
      "data": {"values": [{}]},
      "mark": {"type": "text", "text": "A\u00a0\u00a0C\u00a0\u00a0T\u00a0\u00a0R\u00a0\u00a0I\u00a0\u00a0S", "font": "Lato", "fontSize": 29, "color": "#0d1538", "align": "center", "baseline": "middle"},
      "encoding": {
        "x": {"datum": 20.67, "type": "quantitative", "scale": {"domain": [0, 24], "nice": false, "zero": false}, "axis": null},
        "y": {"datum": 37.9, "type": "quantitative", "scale": {"domain": [-60, 30], "nice": false, "zero": false}, "axis": null}
      }
    },
    {
      "data": {"values": [{}]},
      "mark": {"type": "text", "text": "CCRES", "font": "Lato", "fontSize": 17, "color": "#0d1538", "align": "center", "baseline": "middle"},
      "encoding": {
        "x": {"datum": 20.65, "type": "quantitative", "scale": {"domain": [0, 24], "nice": false, "zero": false}, "axis": null},
        "y": {"datum": 35.2, "type": "quantitative", "scale": {"domain": [-60, 30], "nice": false, "zero": false}, "axis": null}
      }
    }
  ]
}
